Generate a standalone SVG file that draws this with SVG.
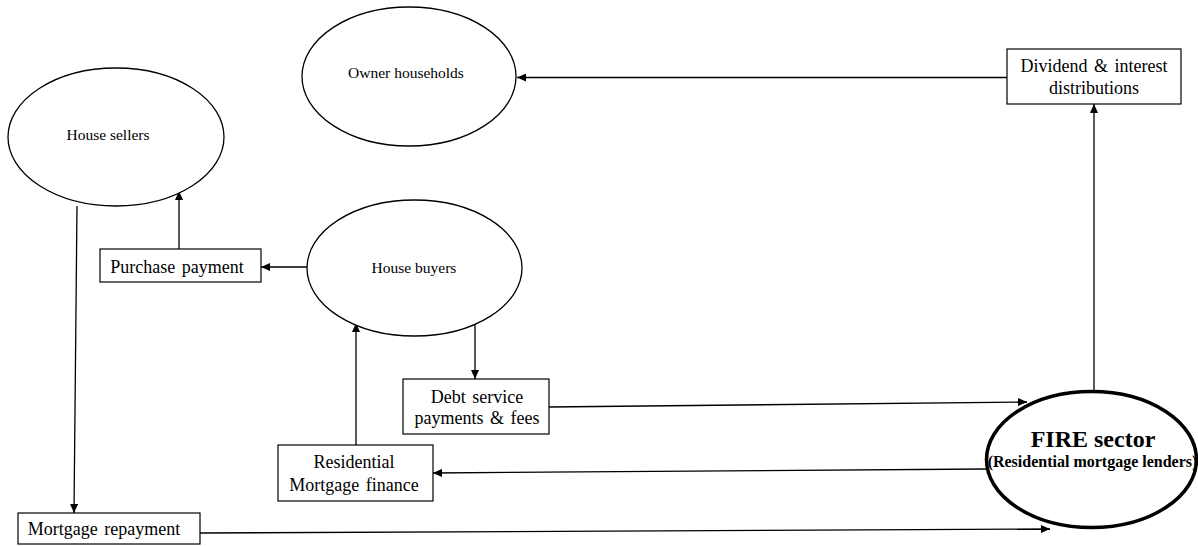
<svg xmlns="http://www.w3.org/2000/svg" width="1198" height="546" viewBox="0 0 1198 546">
<style>
.bg{fill:#ffffff}
.ell{fill:#ffffff;stroke:#000;stroke-width:1.3}
.fire{fill:#ffffff;stroke:#000;stroke-width:3.5}
.box{fill:#ffffff;stroke:#000;stroke-width:1.2}
.t{font-family:"Liberation Serif","Times New Roman",serif;fill:#000;text-anchor:middle}
.et{font-size:15.5px}
.bt{font-size:18px;word-spacing:2px}
.conn line{stroke:#000;stroke-width:1.3;marker-end:url(#ah)}
</style>
<defs>
<marker id="ah" markerUnits="userSpaceOnUse" markerWidth="10" markerHeight="8" refX="9" refY="4" orient="auto">
<path d="M0,0 L9,4 L0,8 Z" fill="#000"/>
</marker>
</defs>
<rect class="bg" x="0" y="0" width="1198" height="546"/>
<g id="connectors" class="conn">
<line x1="1007" y1="77.5" x2="517" y2="77.5"/>
<line x1="1094" y1="390" x2="1094" y2="104"/>
<line x1="179" y1="249" x2="179" y2="191"/>
<line x1="307" y1="267" x2="261" y2="267"/>
<line x1="77" y1="206" x2="74" y2="513"/>
<line x1="475" y1="323" x2="475" y2="379"/>
<line x1="356" y1="445" x2="356" y2="323"/>
<line x1="549" y1="407" x2="1027" y2="402"/>
<line x1="986" y1="469" x2="433" y2="473"/>
<line x1="200" y1="533" x2="1050" y2="529"/>
</g>
<g id="owner-households">
<ellipse class="ell" cx="409" cy="76.5" rx="107" ry="69.5"/>
<text class="t et" x="406" y="78">Owner households</text>
</g>
<g id="house-sellers">
<ellipse class="ell" cx="116" cy="137" rx="108" ry="69"/>
<text class="t et" x="108" y="140">House sellers</text>
</g>
<g id="house-buyers">
<ellipse class="ell" cx="414.5" cy="268" rx="107.5" ry="68"/>
<text class="t et" x="414" y="273">House buyers</text>
</g>
<g id="fire-sector">
<ellipse class="fire" cx="1091.5" cy="459.5" rx="105" ry="68"/>
<text class="t" x="1093" y="447" font-size="24" font-weight="bold">FIRE sector</text>
<text class="t" x="1092.5" y="467" font-size="16" font-weight="bold">(Residential mortgage lenders)</text>
</g>
<g id="dividend-interest">
<rect class="box" x="1007" y="49" width="174" height="55"/>
<text class="t bt" x="1094" y="72">Dividend &amp; interest</text>
<text class="t bt" x="1094" y="94">distributions</text>
</g>
<g id="purchase-payment">
<rect class="box" x="100" y="249" width="161" height="33"/>
<text class="t bt" x="177" y="273">Purchase payment</text>
</g>
<g id="debt-service">
<rect class="box" x="403" y="379" width="146" height="55"/>
<text class="t bt" x="477" y="402.5">Debt service</text>
<text class="t bt" x="477" y="424">payments &amp; fees</text>
</g>
<g id="residential-mortgage-finance">
<rect class="box" x="278" y="445" width="155" height="56"/>
<text class="t bt" x="354" y="468">Residential</text>
<text class="t bt" x="354" y="491">Mortgage finance</text>
</g>
<g id="mortgage-repayment">
<rect class="box" x="18" y="513" width="182" height="31"/>
<text class="t bt" x="104" y="535">Mortgage repayment</text>
</g>
</svg>
